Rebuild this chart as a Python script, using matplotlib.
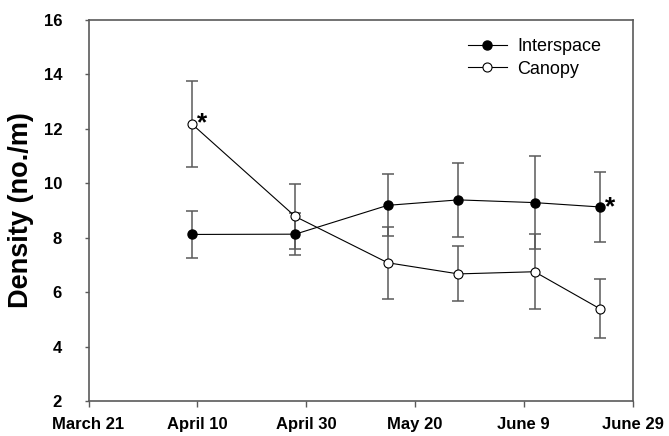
import matplotlib
matplotlib.use("Agg")
import matplotlib.pyplot as plt

# Data (days since March 21)
days = [19, 38, 55, 68, 82, 94]
interspace = [8.12, 8.13, 9.19, 9.39, 9.29, 9.13]
interspace_err = [0.87, 0.78, 1.14, 1.37, 1.70, 1.27]
canopy = [12.18, 8.78, 7.08, 6.67, 6.75, 5.39]
canopy_err = [1.58, 1.18, 1.33, 1.01, 1.37, 1.08]
tick_days = [0, 20, 40, 60, 80, 100]
tick_labels = ["March 21", "April 10", "April 30", "May 20", "June 9", "June 29"]
ytick_vals = [2, 4, 6, 8, 10, 12, 14, 16]

plt.rcParams['font.family'] = ['Liberation Sans', 'DejaVu Sans']

W, H = 669, 436
fig = plt.figure(figsize=(W / 100, H / 100), dpi=100)
left, right, top, bottom = 88.5, 632.5, 20, 401
ax = fig.add_axes([left / W, 1 - bottom / H, (right - left) / W, (bottom - top) / H])

ecol = '#5a5a5a'
ax.errorbar(days, interspace, yerr=interspace_err, fmt='none', ecolor=ecol,
            elinewidth=1.1, capsize=4.3, capthick=1.1, zorder=2)
ax.errorbar(days, canopy, yerr=canopy_err, fmt='none', ecolor=ecol,
            elinewidth=1.1, capsize=4.3, capthick=1.1, zorder=2)
ax.plot(days, interspace, '-', color='black', lw=0.8, marker='o', ms=6.5,
        mfc='black', mec='black', label='Interspace', zorder=3)
ax.plot(days, canopy, '-', color='black', lw=0.8, marker='o', ms=6.5,
        mfc='white', mec='black', mew=0.8, label='Canopy', zorder=3)

ax.annotate('*', (days[0], canopy[0]), xytext=(7.2, -4.3), textcoords='offset points',
            fontsize=19, fontweight='bold', ha='center', va='baseline')
ax.annotate('*', (days[-1], interspace[-1]), xytext=(7.6, -5.5), textcoords='offset points',
            fontsize=19, fontweight='bold', ha='center', va='baseline')

ax.set_xlim(0, 100)
ax.set_ylim(2, 16)
ax.set_xticks(tick_days)
ax.set_xticklabels(tick_labels, fontsize=12, fontweight='bold')
ax.set_yticks(ytick_vals)
ax.set_yticklabels([str(v) for v in ytick_vals], fontsize=12, fontweight='bold')
ax.tick_params(axis='y', width=1, length=3, color=ecol, pad=16)
ax.tick_params(axis='x', width=1, length=4, color=ecol, pad=7.5)
ax.set_ylabel('Density (no./m)', fontsize=19.5, fontweight='bold')
ax.yaxis.set_label_coords(-(left - 34) / (right - left), 0.5)

for s in ['left', 'bottom', 'right', 'top']:
    ax.spines[s].set_color(ecol)
    ax.spines[s].set_linewidth(1.2)

leg = ax.legend(loc='upper left', bbox_to_anchor=((455 - left) / (right - left), 0.985),
                frameon=False, fontsize=13, handlelength=2.2, handletextpad=0.55,
                labelspacing=0.3, borderpad=0.2)

fig.savefig('out.png', dpi=100)
